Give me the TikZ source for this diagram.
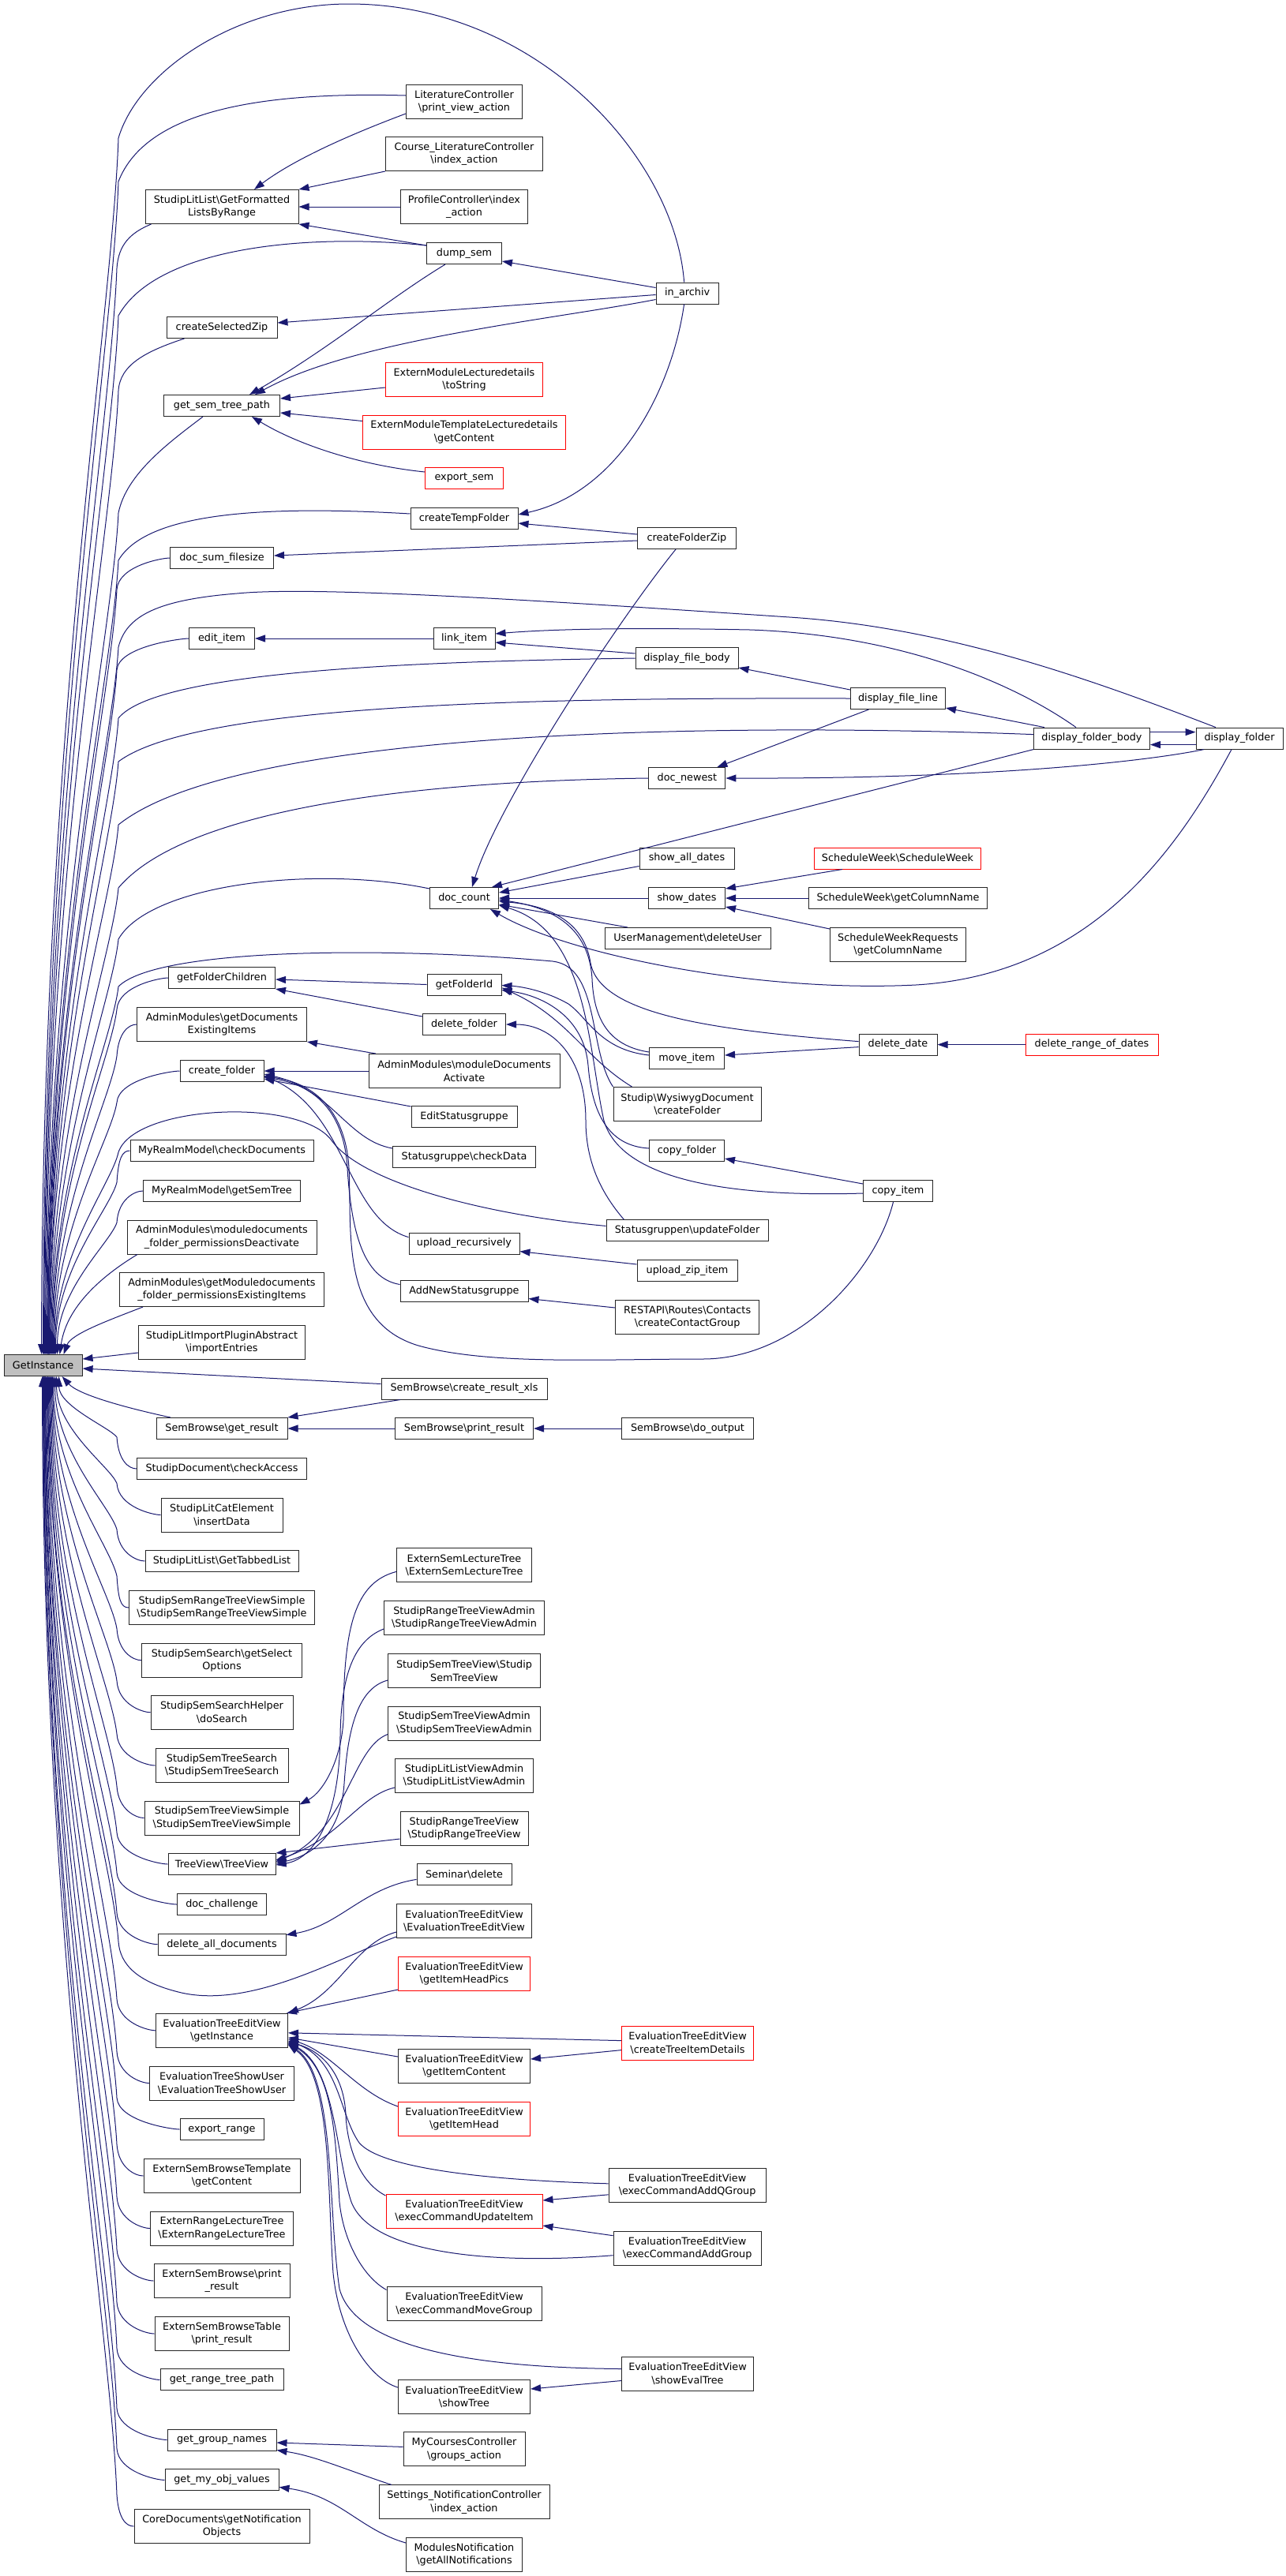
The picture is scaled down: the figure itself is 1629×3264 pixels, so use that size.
\documentclass[tikz,border=0pt]{standalone}
\usepackage{fontspec}
\setmainfont{DejaVu Sans}
\usetikzlibrary{arrows.meta}
\definecolor{edgec}{RGB}{25,25,112}
\newcommand\bs{\textbackslash}
\newcommand\giT[4]{\draw[edge] #1 .. controls ({#2-8},{(#3)+0.15*(1717-(#3))}) and ({54.6+#4},{1717-0.5*(1717-(#3))}) .. ([xshift=#4pt]gi.north);}
\newcommand\giTB[3]{\giT{(#1.west) .. controls +(-10,0) and (150,{#2+10}) .. (148,{#2+40})}{148}{#2+40}{#3}}
\newcommand\giU[4]{\draw[edge] #1 .. controls ({#2-8},{(#3)-0.15*((#3)-1743)}) and ({54.6+#4},{1743+0.5*((#3)-1743)}) .. ([xshift=#4pt]gi.south);}
\newcommand\giUB[3]{\giU{(#1.west) .. controls +(-10,0) and (150,{#2-10}) .. (148,{#2-40})}{148}{#2-40}{#3}}
\begin{document}
\begin{tikzpicture}[x=1pt,y=-1pt,
  every node/.style={font=\fontsize{12.8}{16.5}\selectfont},
  box/.style={draw=black!85,line width=1pt,fill=white,inner sep=0pt,minimum height=27,align=center},
  tall/.style={box,minimum height=43},
  hot/.style={draw=red},
  edge/.style={draw=edgec,line width=1pt,-{Triangle[length=13pt,width=9pt]}}]
\useasboundingbox (0,0) rectangle (1629,3264);
% ---------------- nodes
\node[box,minimum width=99,fill=black!25] (gi) at (54.6,1730) {GetInstance};
% column B
\node[tall,minimum width=194] (gflr) at (281,262) {StudipLitList\bs GetFormatted\\ListsByRange};
\node[box,minimum width=140] (csz) at (281,415) {createSelectedZip};
\node[box,minimum width=147] (gstp) at (281,514) {get\_sem\_tree\_path};
\node[box,minimum width=131] (dsf) at (281,707) {doc\_sum\_filesize};
\node[box,minimum width=83] (edit) at (281,809) {edit\_item};
\node[box,minimum width=135] (gfc) at (281,1239) {getFolderChildren};
\node[tall,minimum width=215] (amgde) at (281,1298) {AdminModules\bs getDocuments\\ExistingItems};
\node[box,minimum width=106] (cf) at (281,1357) {create\_folder};
\node[box,minimum width=232] (mrcd) at (281,1458) {MyRealmModel\bs checkDocuments};
\node[box,minimum width=199] (mrst) at (281,1509) {MyRealmModel\bs getSemTree};
\node[tall,minimum width=240] (amfpd) at (281,1567.5) {AdminModules\bs moduledocuments\\\_folder\_permissionsDeactivate};
\node[tall,minimum width=259] (amgmfp) at (281,1634) {AdminModules\bs getModuledocuments\\\_folder\_permissionsExistingItems};
\node[tall,minimum width=211] (slipa) at (281,1701) {StudipLitImportPluginAbstract\\\bs importEntries};
\node[box,minimum width=166] (sbgr) at (281,1810) {SemBrowse\bs get\_result};
\node[box,minimum width=215] (sdca) at (281,1861) {StudipDocument\bs checkAccess};
\node[tall,minimum width=154] (slce) at (281,1919.5) {StudipLitCatElement\\\bs insertData};
\node[box,minimum width=194] (sltl) at (281,1978) {StudipLitList\bs GetTabbedList};
\node[tall,minimum width=235] (ssrtvs) at (281,2037) {StudipSemRangeTreeViewSimple\\\bs StudipSemRangeTreeViewSimple};
\node[tall,minimum width=203] (sssgso) at (281,2103.7) {StudipSemSearch\bs getSelect\\Options};
\node[tall,minimum width=180] (ssshds) at (281,2169.7) {StudipSemSearchHelper\\\bs doSearch};
\node[tall,minimum width=168] (sstsr) at (281,2237) {StudipSemTreeSearch\\\bs StudipSemTreeSearch};
\node[tall,minimum width=196] (sstvs) at (281,2303.5) {StudipSemTreeViewSimple\\\bs StudipSemTreeViewSimple};
\node[box,minimum width=136] (tvtv) at (281,2362) {TreeView\bs TreeView};
\node[box,minimum width=113] (dch) at (281,2413) {doc\_challenge};
\node[box,minimum width=162] (dad) at (281,2463.7) {delete\_all\_documents};
\node[tall,minimum width=167] (etgi) at (281,2572.8) {EvaluationTreeEditView\\\bs getInstance};
\node[tall,minimum width=183] (etsu) at (281,2639.5) {EvaluationTreeShowUser\\\bs EvaluationTreeShowUser};
\node[box,minimum width=106] (exr) at (281,2698) {export\_range};
\node[tall,minimum width=198] (esbt) at (281,2757) {ExternSemBrowseTemplate\\\bs getContent};
\node[tall,minimum width=181] (erlt) at (281,2823.5) {ExternRangeLectureTree\\\bs ExternRangeLectureTree};
\node[tall,minimum width=172] (esbp) at (281,2890) {ExternSemBrowse\bs print\\\_result};
\node[tall,minimum width=170] (esbtp) at (281,2957) {ExternSemBrowseTable\\\bs print\_result};
\node[box,minimum width=156] (grtp) at (281,3015.4) {get\_range\_tree\_path};
\node[box,minimum width=138] (ggn) at (281,3091.5) {get\_group\_names};
\node[box,minimum width=144] (gmov) at (281,3142.4) {get\_my\_obj\_values};
\node[tall,minimum width=222] (cdgno) at (281,3201) {CoreDocuments\bs getNotification\\Objects};
% column C
\node[tall,minimum width=147] (lcpva) at (588,129) {LiteratureController\\\bs print\_view\_action};
\node[tall,minimum width=199] (clcia) at (588,195) {Course\_LiteratureController\\\bs index\_action};
\node[tall,minimum width=161] (pcia) at (588,262) {ProfileController\bs index\\\_action};
\node[box,minimum width=95] (dumps) at (588,321) {dump\_sem};
\node[tall,hot,minimum width=199] (emlts) at (588,481) {ExternModuleLecturedetails\\\bs toString};
\node[tall,hot,minimum width=257] (emtlg) at (588,547.5) {ExternModuleTemplateLecturedetails\\\bs getContent};
\node[box,hot,minimum width=99] (exps) at (588,606) {export\_sem};
\node[box,minimum width=136] (ctf) at (588,657) {createTempFolder};
\node[box,minimum width=78] (li) at (588,809) {link\_item};
\node[box,minimum width=87] (dc) at (588,1138) {doc\_count};
\node[box,minimum width=94] (gfi) at (588,1247.5) {getFolderId};
\node[box,minimum width=105] (df) at (588,1298) {delete\_folder};
\node[tall,minimum width=242] (amda) at (588,1357) {AdminModules\bs moduleDocuments\\Activate};
\node[box,minimum width=134] (esg) at (588,1415) {EditStatusgruppe};
\node[box,minimum width=181] (sgcd) at (588,1466) {Statusgruppe\bs checkData};
\node[box,minimum width=140] (ur) at (588,1575.6) {upload\_recursively};
\node[box,minimum width=162] (ansg) at (588,1635.5) {AddNewStatusgruppe};
\node[box,minimum width=210] (sbcrx) at (588,1759.5) {SemBrowse\bs create\_result\_xls};
\node[box,minimum width=175] (sbpr) at (588,1810) {SemBrowse\bs print\_result};
\node[tall,minimum width=171] (eslt) at (588,1983.4) {ExternSemLectureTree\\\bs ExternSemLectureTree};
\node[tall,minimum width=203] (srtva) at (588,2050) {StudipRangeTreeViewAdmin\\\bs StudipRangeTreeViewAdmin};
\node[tall,minimum width=193] (sstv) at (588,2117) {StudipSemTreeView\bs Studip\\SemTreeView};
\node[tall,minimum width=193] (sstva) at (588,2183.5) {StudipSemTreeViewAdmin\\\bs StudipSemTreeViewAdmin};
\node[tall,minimum width=175] (sllva) at (588,2250) {StudipLitListViewAdmin\\\bs StudipLitListViewAdmin};
\node[tall,minimum width=162] (srtv) at (588,2317) {StudipRangeTreeView\\\bs StudipRangeTreeView};
\node[box,minimum width=120] (semd) at (588,2375.4) {Seminar\bs delete};
\node[tall,minimum width=171] (etev) at (588,2434) {EvaluationTreeEditView\\\bs EvaluationTreeEditView};
\node[tall,hot,minimum width=167] (ethp) at (588,2501) {EvaluationTreeEditView\\\bs getItemHeadPics};
\node[tall,minimum width=167] (etic) at (588,2618) {EvaluationTreeEditView\\\bs getItemContent};
\node[tall,hot,minimum width=167] (etih) at (588,2685) {EvaluationTreeEditView\\\bs getItemHead};
\node[tall,hot,minimum width=198] (etui) at (588,2802) {EvaluationTreeEditView\\\bs execCommandUpdateItem};
\node[tall,minimum width=196] (etmg) at (588,2919.4) {EvaluationTreeEditView\\\bs execCommandMoveGroup};
\node[tall,minimum width=167] (etst) at (588,3037) {EvaluationTreeEditView\\\bs showTree};
\node[tall,minimum width=154] (mcga) at (588,3103.4) {MyCoursesController\\\bs groups\_action};
\node[tall,minimum width=216] (snia) at (588,3170.4) {Settings\_NotificationController\\\bs index\_action};
\node[tall,minimum width=147] (mnga) at (588,3237) {ModulesNotification\\\bs getAllNotifications};
% column D
\node[box,minimum width=79] (ina) at (870.6,371.5) {in\_archiv};
\node[box,minimum width=125] (cfz) at (870,682) {createFolderZip};
\node[box,minimum width=130] (dfb) at (870,834) {display\_file\_body};
\node[box,minimum width=97] (dn) at (870.4,986) {doc\_newest};
\node[box,minimum width=120] (sad) at (870,1087.5) {show\_all\_dates};
\node[box,minimum width=97] (sd) at (870,1138) {show\_dates};
\node[box,minimum width=210] (umdu) at (871,1189) {UserManagement\bs deleteUser};
\node[box,minimum width=95] (mi) at (870,1341) {move\_item};
\node[tall,minimum width=187] (swcf) at (870.5,1399) {Studip\bs WysiwygDocument\\\bs createFolder};
\node[box,minimum width=95] (cpf) at (870,1458) {copy\_folder};
\node[box,minimum width=205] (sguf) at (870.5,1559.4) {Statusgruppen\bs updateFolder};
\node[box,minimum width=127] (uzi) at (870.5,1610) {upload\_zip\_item};
\node[tall,minimum width=182] (rcg) at (870.6,1669) {RESTAPI\bs Routes\bs Contacts\\\bs createContactGroup};
\node[box,minimum width=167] (sbdo) at (871,1810) {SemBrowse\bs do\_output};
\node[tall,hot,minimum width=167] (ettd) at (871,2588.6) {EvaluationTreeEditView\\\bs createTreeItemDetails};
\node[tall,minimum width=199] (etaq) at (870.6,2768.8) {EvaluationTreeEditView\\\bs execCommandAddQGroup};
\node[tall,minimum width=187] (etag) at (870.6,2848.7) {EvaluationTreeEditView\\\bs execCommandAddGroup};
\node[tall,minimum width=167] (etset) at (871,3007.5) {EvaluationTreeEditView\\\bs showEvalTree};
% column E, F, G
\node[box,minimum width=120] (dfl) at (1137.5,885) {display\_file\_line};
\node[box,hot,minimum width=211] (swsw) at (1137,1087.5) {ScheduleWeek\bs ScheduleWeek};
\node[box,minimum width=226] (swgc) at (1137.5,1138) {ScheduleWeek\bs getColumnName};
\node[tall,minimum width=172] (swrgc) at (1137.5,1197) {ScheduleWeekRequests\\\bs getColumnName};
\node[box,minimum width=99] (dd) at (1137.5,1323.6) {delete\_date};
\node[box,minimum width=88] (ci) at (1137.5,1509) {copy\_item};
\node[box,minimum width=147] (dfob) at (1383,935.6) {display\_folder\_body};
\node[box,hot,minimum width=168] (drod) at (1383,1323.6) {delete\_range\_of\_dates};
\node[box,minimum width=110] (dfo) at (1570,935.6) {display\_folder};
% ---------------- edges into GetInstance (top)
\giT{([xshift=-4pt]ina.north) .. controls (855,200) and (680,5) .. (442,5) .. controls (300,5) and (175,90) .. (150,175)}{150}{175}{-2}
\giT{([yshift=8pt]lcpva.west) .. controls (330,116) and (185,140) .. (150,230)}{150}{230}{0}
\giT{([xshift=8pt]gflr.south west) .. controls (165,295) and (150,310) .. (148,340)}{148}{340}{1}
\giT{([yshift=10pt]dumps.west) .. controls (400,296) and (200,310) .. (150,400)}{150}{400}{2}
\giT{([xshift=23pt]csz.south west) .. controls (185,445) and (152,462) .. (150,495)}{150}{495}{3}
\giT{([xshift=-24pt]gstp.south) .. controls (215,560) and (160,600) .. (150,650)}{150}{650}{4}
\giT{([yshift=6pt]ctf.west) .. controls (330,640) and (185,650) .. (150,710)}{150}{710}{5}
\giTB{dsf}{707}{6}
\giT{([xshift=-30pt]dfo.north) .. controls (1380,860) and (1200,795) .. (1000,782) .. controls (700,762) and (400,742) .. (300,752) .. controls (200,760) and (160,780) .. (150,820)}{150}{820}{6}
\giTB{edit}{809}{7}
\giT{(dfb.west) .. controls (550,838) and (200,848) .. (150,910)}{150}{910}{7}
\giT{(dfl.west) .. controls (700,884) and (250,890) .. (150,965)}{150}{965}{8}
\giT{([yshift=5pt]dfob.west) .. controls (900,915) and (300,925) .. (150,1045)}{150}{1045}{8}
\giT{(dn.west) .. controls (500,990) and (230,1030) .. (150,1125)}{150}{1125}{9}
\giT{([yshift=12pt]dc.west) .. controls (400,1096) and (190,1120) .. (150,1190)}{150}{1190}{10}
\giT{(swcf.north west) .. controls (745,1330) and (760,1225) .. (700,1218) .. controls (500,1200) and (200,1200) .. (150,1250)}{150}{1250}{11}
\giTB{gfc}{1239}{12}
\giTB{amgde}{1298}{13}
\giTB{cf}{1357}{14}
\giT{([yshift=6pt]sguf.west) .. controls (620,1540) and (460,1500) .. (420,1445) .. controls (380,1390) and (170,1400) .. (150,1460)}{150}{1460}{15}
\giTB{mrcd}{1458}{16}
\giTB{mrst}{1509}{18}
\draw[edge] ([xshift=-107pt]amfpd.south) .. controls (140,1610) and (85,1650) .. ([xshift=21pt]gi.north);
\draw[edge] ([xshift=-100pt]amgmfp.south) .. controls (140,1672) and (90,1690) .. ([xshift=26pt]gi.north);
\draw[edge] ([yshift=-13pt]slipa.west) -- ([yshift=8pt]gi.east);
\draw[edge] ([yshift=6pt]sbcrx.west) -- ([yshift=-4pt]gi.east);
% ---------------- edges into GetInstance (bottom)
\draw[edge] ([xshift=-65pt]sbgr.north) .. controls (165,1785) and (100,1768) .. ([xshift=24pt]gi.south);
\giUB{sdca}{1861}{20}
\giUB{slce}{1919.5}{17}
\giUB{sltl}{1978}{15}
\giUB{ssrtvs}{2037}{13}
\giUB{sssgso}{2103.7}{12}
\giUB{ssshds}{2169.7}{11}
\giUB{sstsr}{2237}{10}
\giUB{sstvs}{2303.5}{9}
\giUB{tvtv}{2362}{8}
\giUB{dch}{2413}{7}
\giUB{dad}{2463.7}{6}
\giU{([yshift=-20pt]etev.west) .. controls (430,2480) and (320,2545) .. (230,2525) .. controls (175,2512) and (152,2490) .. (150,2460)}{150}{2460}{6}
\giUB{etgi}{2572.8}{5}
\giUB{etsu}{2639.5}{4}
\giUB{exr}{2698}{3}
\giUB{esbt}{2757}{3}
\giUB{erlt}{2823.5}{2}
\giUB{esbp}{2890}{2}
\giUB{esbtp}{2957}{1}
\giUB{grtp}{3015.4}{1}
\giUB{ggn}{3091.5}{0}
\giUB{gmov}{3142.4}{0}
\giUB{cdgno}{3201}{-1}
% ---------------- upper area
\draw[edge] (pcia.west) -- (gflr.east);
\draw[edge] (clcia.south west) -- (gflr.north east);
\draw[edge] ([yshift=-15pt]lcpva.west) .. controls (450,168) and (375,200) .. ([xshift=41pt]gflr.north);
\draw[edge] ([yshift=10pt]dumps.west) -- (gflr.south east);
\draw[edge] ([yshift=7pt]ina.west) -- ([yshift=-10pt]dumps.east);
\draw[edge] ([yshift=-2pt]ina.west) -- ([yshift=6pt]csz.east);
\draw[edge] ([yshift=-8pt]ina.west) .. controls (700,405) and (450,430) .. ([xshift=42pt]gstp.north);
\draw[edge] ([xshift=-24pt]dumps.south) .. controls (490,380) and (420,440) .. ([xshift=35pt]gstp.north);
\draw[edge] ([yshift=-10pt]emlts.west) -- ([yshift=9pt]gstp.east);
\draw[edge] ([yshift=14pt]emtlg.west) -- ([yshift=-9pt]gstp.east);
\draw[edge] ([yshift=8pt]exps.west) .. controls (460,590) and (380,565) .. ([xshift=38pt]gstp.south);
\draw[edge] ([xshift=-4pt]ina.south) .. controls (850,500) and (780,625) .. ([yshift=5pt]ctf.east);
\draw[edge] ([yshift=5pt]cfz.west) -- ([yshift=-6pt]ctf.east);
\draw[edge] ([yshift=-3pt]cfz.west) -- ([yshift=3pt]dsf.east);
\draw[edge] (li.west) -- (edit.east);
\draw[edge] ([xshift=-20pt]dfob.north) .. controls (1290,870) and (1150,805) .. (950,798) .. controls (800,795) and (700,797) .. ([yshift=6pt]li.east);
\draw[edge] ([yshift=6pt]dfb.west) -- ([yshift=-5pt]li.east);
\draw[edge] ([yshift=11pt]dfl.west) -- ([yshift=-12pt]dfb.east);
\draw[edge] ([xshift=-60pt]dfob.north) -- ([yshift=-12pt]dfl.east);
\draw[edge] ([yshift=8pt]dfob.east) -- ([yshift=8pt]dfo.west);
\draw[edge] ([yshift=-8pt]dfo.west) -- ([yshift=-8pt]dfob.east);
\draw[edge] ([xshift=-37pt]dfl.south) -- ([xshift=38pt]dn.north);
\draw[edge] ([xshift=-45pt]dfo.south) .. controls (1450,965) and (1250,987) .. (dn.east);
% ---------------- doc_count area
\draw[edge] (dfob.south west) -- ([xshift=35pt]dc.north);
\draw[edge] ([xshift=-14pt]cfz.south) .. controls (780,790) and (630,1020) .. ([xshift=10pt]dc.north);
\draw[edge] ([yshift=-10pt]sad.west) -- ([yshift=7pt]dc.east);
\draw[edge] (sd.west) -- (dc.east);
\draw[edge] ([xshift=-76pt]umdu.north) -- ([yshift=-8pt]dc.east);
\draw[edge] ([xshift=-10pt]dfo.south) .. controls (1490,1080) and (1380,1235) .. (1160,1248) .. controls (960,1258) and (720,1210) .. ([xshift=33pt]dc.south);
\draw[edge] ([xshift=-70pt]swsw.south) -- ([yshift=12pt]sd.east);
\draw[edge] (swgc.west) -- (sd.east);
\draw[edge] ([yshift=20pt]swrgc.west) -- ([yshift=-11pt]sd.east);
\draw[edge] (drod.west) -- (dd.east);
\draw[edge] ([yshift=-3pt]dd.west) -- ([yshift=4pt]mi.east);
\draw[edge] ([yshift=4pt]dd.west) .. controls (900,1305) and (760,1285) .. (748,1220) .. controls (740,1170) and (700,1148) .. ([yshift=-4pt]dc.east);
\draw[edge] ([yshift=8pt]mi.west) .. controls (770,1325) and (752,1290) .. (750,1240) .. controls (746,1175) and (700,1150) .. ([yshift=-2pt]dc.east);
\draw[edge] ([yshift=4pt]mi.west) .. controls (760,1330) and (745,1290) .. (720,1272) .. controls (690,1255) and (660,1250) .. ([yshift=-1pt]gfi.east);
\draw[edge] ([xshift=-70pt]swcf.north) .. controls (740,1340) and (720,1290) .. ([yshift=-4pt]gfi.east);
\draw[edge] ([yshift=3pt]cpf.west) .. controls (770,1452) and (750,1410) .. (745,1350) .. controls (740,1290) and (690,1262) .. ([yshift=-7pt]gfi.east);
\draw[edge] ([yshift=-3pt]ci.west) .. controls (960,1516) and (790,1505) .. (765,1420) .. controls (745,1330) and (745,1180) .. ([yshift=-9pt]dc.east);
\draw[edge] ([yshift=9pt]ci.west) -- ([yshift=-10pt]cpf.east);
\draw[edge] ([xshift=-80pt]sguf.north) .. controls (760,1510) and (742,1470) .. (742,1420) .. controls (742,1340) and (700,1298) .. (df.east);
% ---------------- folder area
\draw[edge] (gfi.west) -- ([yshift=-2pt]gfc.east);
\draw[edge] ([yshift=10pt]df.west) -- (gfc.south east);
\draw[edge] (amda.west) -- (cf.east);
\draw[edge] ([xshift=-112pt]amda.north) -- (amgde.south east);
\draw[edge] ([yshift=13pt]esg.west) -- ([yshift=-10pt]cf.east);
\draw[edge] ([yshift=11pt]sgcd.west) .. controls (440,1445) and (420,1380) .. ([yshift=-4pt]cf.east);
\draw[edge] ([yshift=8pt]ur.west) .. controls (440,1545) and (440,1410) .. ([yshift=-6pt]cf.east);
\draw[edge] ([yshift=8pt]ansg.west) .. controls (460,1620) and (445,1560) .. (440,1480) .. controls (436,1410) and (400,1375) .. ([yshift=-8pt]cf.east);
\draw[edge] ([xshift=-6pt]ci.south) .. controls (1110,1610) and (1010,1722) .. (890,1722) .. controls (760,1722) and (620,1730) .. (530,1705) .. controls (430,1675) and (446,1560) .. (442,1480) .. controls (438,1410) and (400,1372) .. ([yshift=-7pt]cf.east);
\draw[edge] ([yshift=8pt]uzi.west) -- ([yshift=-10pt]ur.east);
\draw[edge] ([yshift=12pt]rcg.west) -- ([yshift=-10pt]ansg.east);
% ---------------- SemBrowse
\draw[edge] (sbdo.west) -- (sbpr.east);
\draw[edge] (sbpr.west) -- (sbgr.east);
\draw[edge] ([xshift=-81pt]sbcrx.south) -- (sbgr.north east);
% ---------------- TreeView
\draw[edge] ([yshift=-13pt]srtv.west) -- (tvtv.north east);
\draw[edge] ([yshift=-15pt]sllva.west) .. controls (455,2275) and (430,2330) .. ([yshift=5pt]tvtv.east);
\draw[edge] ([yshift=-14pt]sstva.west) .. controls (445,2215) and (440,2320) .. ([yshift=3pt]tvtv.east);
\draw[edge] ([yshift=-12pt]sstv.west) .. controls (450,2140) and (440,2200) .. (436,2260) .. controls (432,2320) and (400,2350) .. ([yshift=1pt]tvtv.east);
\draw[edge] ([yshift=-14pt]srtva.west) .. controls (445,2080) and (432,2130) .. (431,2200) .. controls (430,2300) and (400,2355) .. ([yshift=-1pt]tvtv.east);
\draw[edge] ([yshift=-8pt]eslt.west) .. controls (450,2005) and (435,2060) .. (435,2180) .. controls (432,2230) and (410,2270) .. ([yshift=17pt]sstvs.east);
\draw[edge] ([yshift=-6pt]semd.west) .. controls (460,2392) and (430,2440) .. ([yshift=12pt]dad.east);
% ---------------- Evaluation
\draw[edge] ([yshift=-14pt]etev.west) .. controls (450,2462) and (430,2525) .. (etgi.north east);
\draw[edge] ([yshift=-20pt]ethp.west) -- ([xshift=-2pt]etgi.north east);
\draw[edge] ([yshift=3pt]ettd.west) -- ([yshift=-3pt]etgi.east);
\draw[edge] ([yshift=-9pt]ettd.west) -- ([yshift=9pt]etic.east);
\draw[edge] ([yshift=12pt]etic.west) -- ([yshift=-9pt]etgi.east);
\draw[edge] ([yshift=16pt]etih.west) .. controls (450,2650) and (420,2600) .. ([yshift=-11pt]etgi.east);
\draw[edge] ([yshift=2pt]etaq.west) .. controls (600,2762) and (480,2745) .. (455,2715) .. controls (430,2680) and (430,2610) .. ([yshift=-13pt]etgi.east);
\draw[edge] ([yshift=-12pt]etaq.west) -- ([yshift=14pt]etui.east);
\draw[edge] ([yshift=16pt]etag.west) -- ([yshift=-18pt]etui.east);
\draw[edge] ([yshift=20pt]etui.west) .. controls (455,2765) and (440,2720) .. (438,2680) .. controls (436,2630) and (410,2600) .. ([yshift=-14pt]etgi.east);
\draw[edge] ([yshift=-9pt]etag.west) .. controls (620,2870) and (470,2855) .. (445,2790) .. controls (425,2730) and (425,2620) .. ([yshift=-15pt]etgi.east);
\draw[edge] ([yshift=18pt]etmg.west) .. controls (460,2885) and (435,2840) .. (430,2790) .. controls (425,2700) and (420,2620) .. ([yshift=-16pt]etgi.east);
\draw[edge] ([yshift=6pt]etset.west) .. controls (600,3000) and (450,2975) .. (430,2900) .. controls (415,2800) and (425,2630) .. ([yshift=-17pt]etgi.east);
\draw[edge] ([yshift=-9pt]etset.west) -- ([yshift=10pt]etst.east);
\draw[edge] ([yshift=12pt]etst.west) .. controls (470,3015) and (430,2960) .. (422,2880) .. controls (415,2780) and (420,2630) .. ([yshift=-18pt]etgi.east);
% ---------------- groups / notifications
\draw[edge] ([yshift=3pt]mcga.west) -- ([yshift=-3.5pt]ggn.east);
\draw[edge] ([xshift=-92pt]snia.north) .. controls (440,3130) and (400,3112) .. ([yshift=-13pt]ggn.east);
\draw[edge] ([yshift=15pt]mnga.west) .. controls (455,3205) and (430,3162) .. ([yshift=-9pt]gmov.east);
\end{tikzpicture}
\end{document}
